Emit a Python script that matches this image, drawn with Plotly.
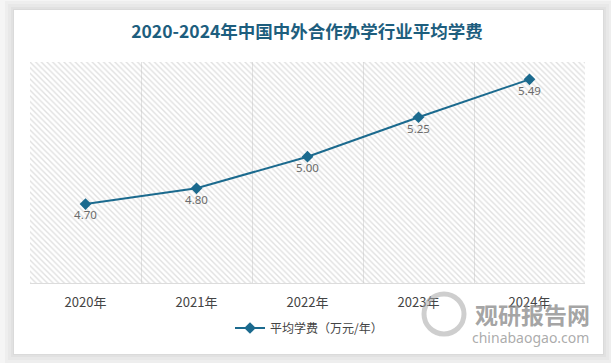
import plotly.graph_objects as go

years = ["2020年", "2021年", "2022年", "2023年", "2024年"]
fees = [4.70, 4.80, 5.00, 5.25, 5.49]
labels = ["4.70", "4.80", "5.00", "5.25", "5.49"]
series_name = "平均学费（万元/年）"
title = "2020-2024年中国中外合作办学行业平均学费"

W, H = 611, 363
L, R, T, B = 30, 585, 62, 283
pw, ph = R - L, B - T
ymin, ymax = 4.2, 5.6

def px(x):
    return (x - L) / pw

def py(y):
    return (B - y) / ph

xs = list(range(len(years)))

fig = go.Figure()

# hatched background
fig.add_trace(go.Bar(
    x=xs, y=[ymax - ymin] * len(xs), base=ymin, width=1,
    marker=dict(color="rgba(0,0,0,0)", line=dict(width=0),
                pattern=dict(shape="\\", size=4, solidity=0.35,
                             fgcolor="#c2c2c2", bgcolor="rgba(0,0,0,0)",
                             fillmode="overlay")),
    hoverinfo="skip", showlegend=False,
))

fig.add_trace(go.Scatter(
    x=xs, y=fees, mode="lines+markers+text", name=series_name,
    line=dict(color="#1b6a8e", width=2),
    marker=dict(symbol="diamond", size=9, color="#1b6a8e"),
    text=labels, textposition="bottom center",
    textfont=dict(size=11.5, color="#6b6b6b", family="Noto Sans"),
))

shapes = []
# card shadow and card
for pad, col in [(9, "#eeeeee"), (6, "#e8e8e8"), (3, "#e1e1e1"), (1, "#dadada")]:
    shapes.append(dict(type="rect", xref="paper", yref="paper", layer="below",
                       x0=px(14 - pad), x1=px(603 + pad), y0=py(354 + pad), y1=py(10 - pad),
                       fillcolor=col, line=dict(width=0)))
shapes.append(dict(type="rect", xref="paper", yref="paper", layer="below",
                   x0=px(14), x1=px(603), y0=py(354), y1=py(10),
                   fillcolor="white", line=dict(width=0)))
# watermark logo ring
shapes.append(dict(type="circle", xref="paper", yref="paper", layer="above",
                   x0=px(424), x1=px(464), y0=py(334), y1=py(294),
                   line=dict(color="rgba(165,165,165,0.55)", width=5)))

fig.update_layout(
    width=W, height=H,
    margin=dict(l=L, r=W - R, t=T, b=H - B),
    paper_bgcolor="#f5f5f5", plot_bgcolor="white",
    title=dict(text="<b>" + title + "</b>", x=px(307), xref="paper", xanchor="center",
               y=1 - 32 / H, yanchor="middle",
               font=dict(size=17.5, color="#1d5e7e", family="Noto Sans CJK SC")),
    xaxis=dict(range=[-0.5, len(years) - 0.5], tickvals=xs, ticktext=years,
               showgrid=False, zeroline=False, showline=True, linecolor="#dcdcdc",
               linewidth=1, ticks="outside", ticklen=7, tickcolor="rgba(0,0,0,0)",
               tickfont=dict(size=13, color="#444444", family="Noto Sans CJK SC"),
               minor=dict(tickvals=[i + 0.5 for i in xs[:-1]], showgrid=True,
                          gridcolor="#e2e2e2", gridwidth=1, ticks=""),
               fixedrange=True),
    yaxis=dict(range=[ymin, ymax], visible=False, showgrid=False, fixedrange=True),
    showlegend=True,
    legend=dict(orientation="h", x=px(309), xanchor="center", y=py(328), yanchor="middle",
                font=dict(size=12, color="#444444", family="Noto Sans CJK SC"),
                bgcolor="rgba(0,0,0,0)", itemwidth=30),
    shapes=shapes,
    annotations=[
        dict(text="<b>观研报告网</b>", xref="paper", yref="paper", x=px(532), y=py(314),
             showarrow=False, xanchor="center", yanchor="middle",
             font=dict(size=23, color="rgba(140,140,140,0.8)", family="Noto Sans CJK SC")),
        dict(text="chinabaogao.com", xref="paper", yref="paper", x=px(530), y=py(337),
             showarrow=False, xanchor="center", yanchor="middle",
             font=dict(size=14, color="rgba(150,150,150,0.8)", family="Noto Sans")),
    ],
    bargap=0,
)

fig.write_html("out.html", config={"displayModeBar": False},
               post_script="document.body.style.margin='0';document.body.style.padding='0';")
